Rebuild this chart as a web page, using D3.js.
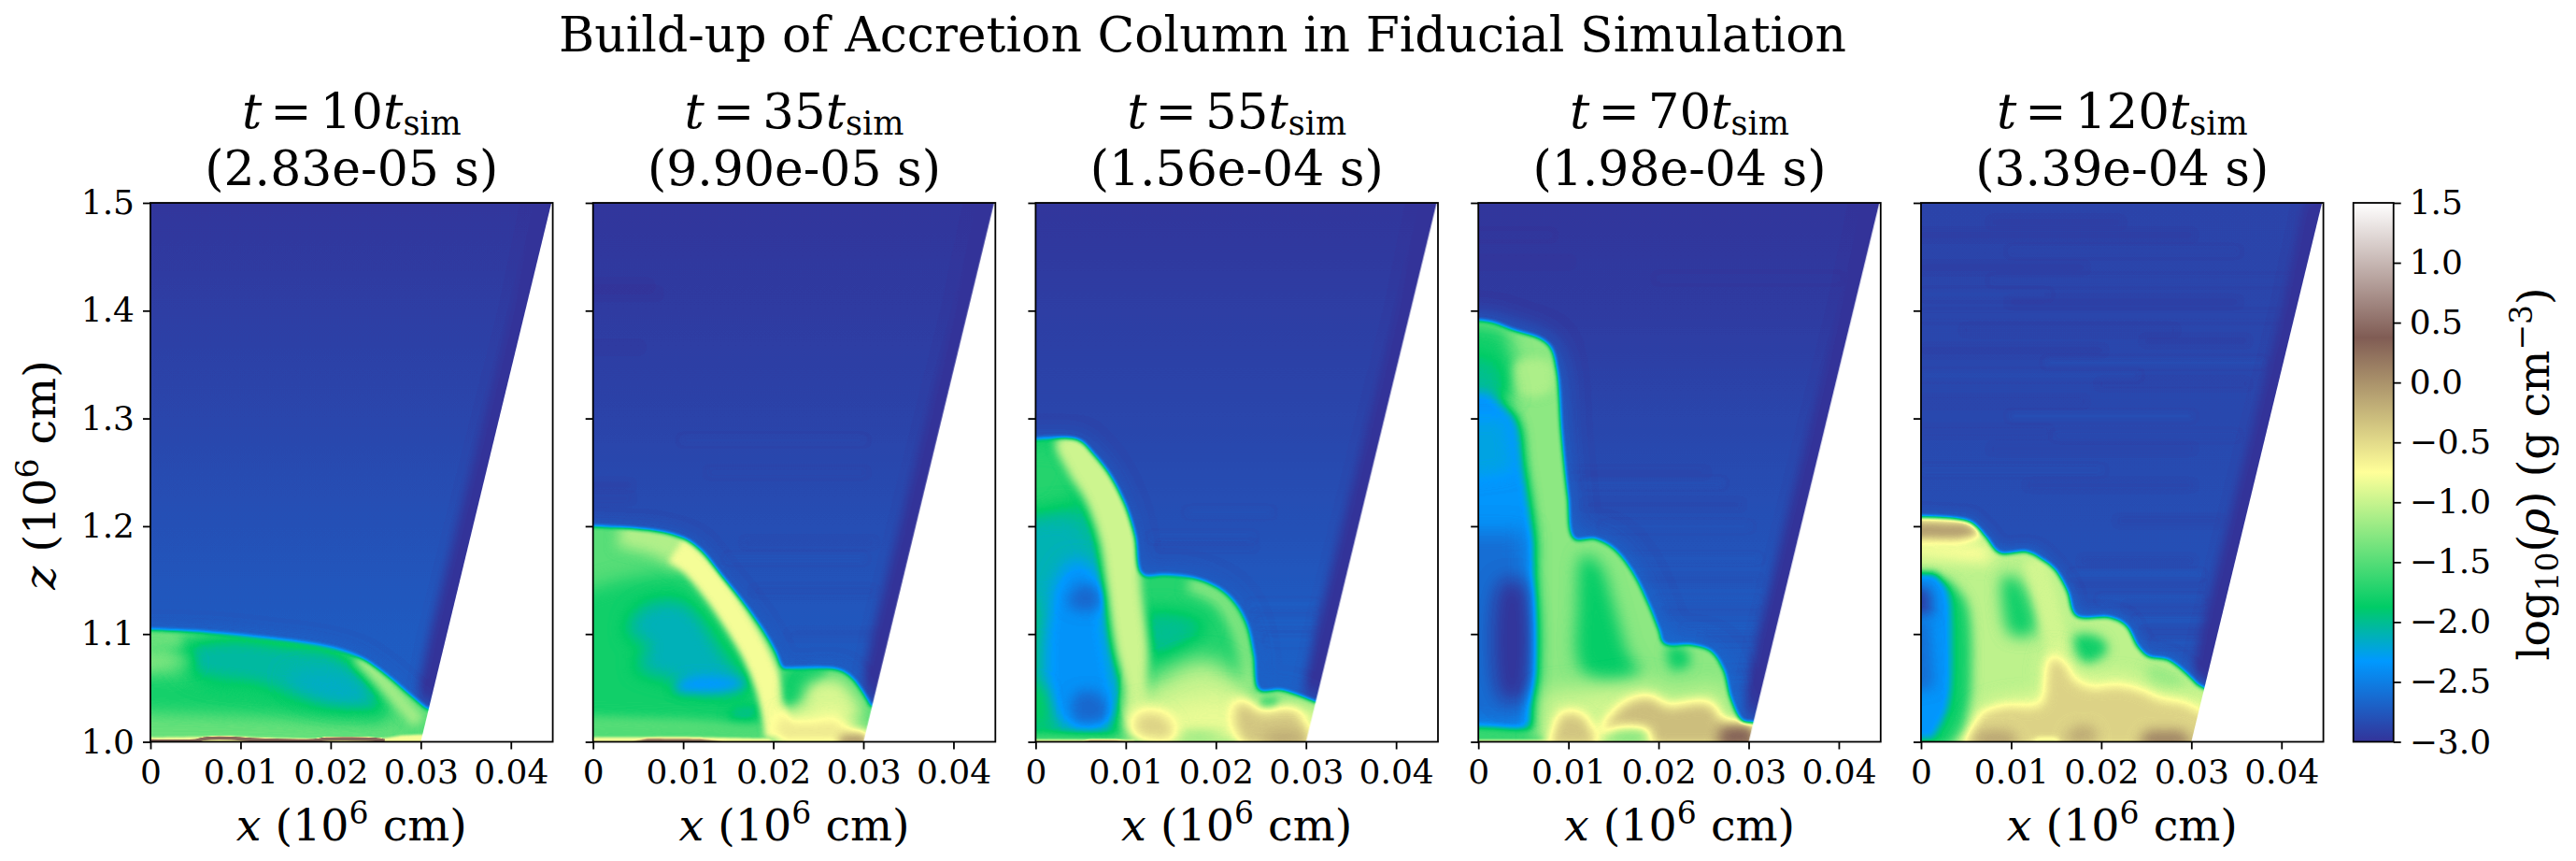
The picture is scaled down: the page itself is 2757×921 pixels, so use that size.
<!DOCTYPE html>
<html><head><meta charset="utf-8">
<script src="https://d3js.org/d3.v7.min.js"></script>
<style>html,body{margin:0;padding:0;background:#fff}svg{display:block}text{font-family:"DejaVu Serif";fill:#000}</style>
</head><body><svg id="c" width="2757" height="921"></svg>
<script>
// Units: x in 10^3 cm, z in 10^3 cm above 1.0e6 cm.
const timesSim=["10","35","55","70","120"];
const timesSec=["2.83e-05","9.90e-05","1.56e-04","1.98e-04","3.39e-04"];
const xTicks=[0,10,20,30,40];
const zTicks=[0,100,200,300,400,500];
const cbTicks=[-3,-2.5,-2,-1.5,-1,-0.5,0,0.5,1,1.5];
const terrainPos=[-3,-2.325,-1.875,-0.75,0.375,1.5];
const terrainCol=["#333399","#0099ff","#00cc66","#ffff99","#805c54","#ffffff"];
const wedge=[[30,0],[44.5,500],[-5,500],[-5,0]];
const darkStrip=[[29,20],[31,100],[34,200],[37,300],[40,400],[42.5,500],[50,520],[50,-10],[31,-10]];

const bgZ=[0,40,100,200,300,400,500];
const bg1=[-2.72,-2.72,-2.74,-2.8,-2.87,-2.93,-2.98];
const bg2=[-2.72,-2.72,-2.76,-2.82,-2.89,-2.94,-2.98];
const bg3=[-2.66,-2.68,-2.72,-2.8,-2.87,-2.93,-2.98];
const bg4=[-2.66,-2.68,-2.72,-2.8,-2.88,-2.94,-2.98];
const bg5=[-2.74,-2.76,-2.78,-2.82,-2.86,-2.88,-2.9];

// density regions: [rho, softness, outline]; strokes carry a thickness before the outline.
// first entry = halo outside the front, second = the front itself, the rest lie inside the front.
const panel1Regions=[
[-2.66,.9,[[-5,106],[6.3,104],[13.2,98],[20,90],[23.5,80],[26.3,64],[28.7,47],[30.6,35],[36,20],[36,-10],[-5,-10]]],
[-1.5,.2,[[-5,104],[0,104],[6.3,101.5],[13.2,96],[20,87.5],[23.5,77],[26.3,61],[28.7,44],[30.6,31],[36,20],[36,-10],[-5,-10]]],
[-1.42,.8,[[-5,30],[8,28],[20,22],[28,18],[28,-5],[-5,-5]]],
[-1.78,.9,[[-5,62],[8,58],[14,47],[25,25],[26.5,25],[25,19],[14,24],[-5,30]]],
[-2.05,1,[[4.6,93],[9.7,98],[14.9,93],[20.8,85],[23.5,64],[26.3,26],[21.8,31],[16.6,38],[11.5,50],[4.6,61],[2.8,82]]],
[-2.15,1,[[15,60],[21,64],[24.5,40],[20,36]]],
[-1.15,.5,1.6,[[23.2,79],[25.6,58],[28,35],[29.8,18]]],
[-1.4,.5,[[-5,104],[3,103],[3.5,90],[-5,88]]],
[-1.25,.8,[[-5,82],[4,80],[5,72],[-5,65]]],
[-.78,.1,[[-5,3.5],[5,4.5],[9,5],[12,4],[26,3.5],[28,6],[31,7],[36,-5],[-5,-5]]],
[.3,.08,.4,[[-1,1],[5,1],[6,3],[9,3.4],[11,2.2],[18,1.2],[19.5,2.6],[25,2.2],[26,1]]]
];
const panel2Regions=[
[-2.68,.9,[[-5,202],[6.4,198],[9.9,191],[11.9,181],[14.3,156],[16.8,130],[18.8,107],[20.2,87],[21.1,71],[27.1,70],[28.5,64],[29.9,50],[30.8,37],[36,20],[36,-10],[-5,-10]]],
[-1.48,.2,[[-5,200],[0,200],[6.4,196],[9.9,189],[11.9,178],[14.3,153.5],[16.8,127.5],[18.8,104],[20.2,84],[21.1,68],[21.6,68],[27.1,67],[28.5,61],[29.9,46.5],[30.8,33.5],[36,20],[36,-10],[-5,-10]]],
[-1.8,1,[[-5,130],[3,150],[10,155],[12.5,130],[16,93],[18.5,46],[19,15],[-5,20]]],
[-2.12,1,[[4.3,116],[7,130],[10.5,127],[14.3,84],[17,52],[13.3,46],[9.9,55],[4.7,70],[6.4,90],[4,98]]],
[-2.35,.6,[[9,48],[15,48],[17,54],[14,60],[10,58]]],
[-2,.6,[[15,22],[18,22],[18.5,32],[15.5,30]]],
[-1.5,.5,[[-5,24],[10,20],[19,12],[20,8],[-5,7]]],
[-1.1,.7,3.8,[[3,197],[7.6,187],[10.5,172]]],
[-.8,.35,3,[[9.2,178],[11.2,165],[13.8,139],[16.1,110],[18.1,81],[19.5,52],[20.3,23],[20.6,5]]],
[-1.8,.5,[[21.5,66],[26,66],[25,52],[23,38],[21.4,32]]],
[-.92,.8,[[23.7,52],[27.1,58],[29.1,41],[29.9,23],[20.9,26],[23.3,35]]],
[-.6,.8,[[20.5,26],[24,24],[27,26],[29,15],[30.5,8],[36,-5],[20,-5]]],
[-.05,.5,[[27.5,6],[30,8],[31,-5],[27,-5]]],
[-.8,.12,[[-5,4],[10,4.5],[19.5,3],[21,-5],[-5,-5]]],
[.3,.1,[[4,-1],[6,3],[12,2.6],[15,-1]]]
];
const panel3Regions=[
[-2.68,1.1,[[-5,283],[4.7,282],[6.4,270],[8.1,252],[9.9,223],[11,194],[11.9,158],[14.4,158],[17.5,155],[20.2,146],[22.2,133],[23.7,112],[24.6,83],[25.1,51],[27.2,50],[29.2,46],[31,40],[36,20],[36,-10],[-5,-10]]],
[-1.9,.2,[[-5,281],[0,281],[4.7,280],[6.4,267],[8.1,249],[9.9,220],[11,191],[11.8,155.5],[14.4,155],[17.5,152],[20.2,143],[22,130],[23.4,110],[24.2,81],[24.8,48],[27.2,48],[29.2,43],[30.9,37.5],[36,20],[36,-10],[-5,-10]]],
[-1.72,1.5,[[-5,285],[4,280],[6,255],[3,205],[-5,195]]],
[-2.1,1.2,[[-5,205],[4,215],[6.5,190],[7.5,130],[-5,125]]],
[-2.36,1,[[1.5,130],[4,168],[6.5,160],[8,100],[8.5,20],[3,15],[1,50]]],
[-2.65,.7,[[3.5,130],[5,146],[7,140],[7,124],[4.5,122]]],
[-2.65,.7,[[4,30],[4.5,45],[7,45],[8,22],[4.5,18]]],
[-1.85,.8,[[-5,60],[1,50],[1.5,20],[-5,15]]],
[-1.6,.4,[[-5,9],[10,6],[11,-5],[-5,-5]]],
[-.8,.12,[[-5,2.5],[11,2],[11,-5],[-5,-5]]],
[.1,.1,[[5,-1],[6,1.8],[9,1.8],[11,-1]]],
[-1.72,.15,[[11.5,158],[14.4,158],[17.5,156],[21,146],[24,130],[25,110],[26,81],[26,48],[24,20],[10,20],[10.5,100]]],
[-1.3,.6,2,[[17,148],[20.5,133],[22.6,105],[23.6,72],[24,50]]],
[-2,1,[[12,120],[15,122],[19,110],[16,85],[13,78],[12,90]]],
[-1,1.2,[[12,50],[14,60],[16,70],[19,76],[21.5,65],[23.7,52],[25,30],[24,10],[10,10]]],
[-.97,.5,[[2.2,279],[5,285],[7.5,262],[9,247],[10.6,220],[11.6,190],[11.7,145],[12.5,87],[12.4,50],[13,10],[10.3,10],[9.9,50],[8.8,87],[7.8,145],[7,188],[5.4,225],[3.6,250]]],
[-1.3,.3,[[24.8,50],[27.2,50],[29.2,46],[31,40],[36,20],[24,20]]],
[-.85,1.2,[[11,30],[14,32],[17,40],[21,42],[23,38],[30,33],[36,20],[36,-5],[10.5,-5]]],
[-1.6,.4,[[25,40],[27,40],[26.5,33],[25,33]]],
[-1.3,.6,[[15.5,6],[18,9],[21,6],[18,2]]],
[-.45,.75,[[11,5],[11,25],[14,27],[15.5,12],[15,-1]]],
[-.35,.7,[[22.3,37.6],[23.7,35],[25,27],[27.2,30],[29,29],[30,14],[31,-5],[23,-5],[22,17]]],
[-.1,.8,[[25,-5],[26,8],[29,8],[31,-5]]]
];
const panel4Regions=[
[-2.62,1.4,[[-5,393],[1.6,391],[4,383.5],[6.8,376],[8.2,367],[9,345],[9.5,286],[10.2,228],[10.9,191],[13,191],[15.2,182],[17.5,158],[19.2,129],[20.3,106],[20.9,94],[23.7,92],[26,86],[27.5,68],[28.3,42],[29.6,22],[36,10],[36,-10],[-5,-10]]],
[-1.25,.2,[[-5,391],[0,391],[1.6,389],[4,381.5],[6.8,374],[8,365.6],[8.7,344],[9.2,286],[9.9,228],[10.6,188.5],[13,188],[15,179],[17.2,156],[18.9,127],[20,104],[20.6,91],[23.7,89.6],[25.8,84],[27.2,66.5],[28,40],[29.3,19],[30.3,18],[36,10],[36,-10],[-5,-10]]],
[-1.78,1,[[-5,395],[3,385],[4,350],[3.5,320],[-5,310]]],
[-1.12,.5,[[4.2,352],[8,352],[8,325],[4.5,322]]],
[-2,1.1,[[-5,362],[2,355],[3.6,320],[-5,300]]],
[-2.35,.6,[[-5,322],[1,325],[4.3,300],[5.2,257],[6.2,199],[6.1,113],[6.2,11],[-5,11]]],
[-2.25,.9,[[-5,300],[3.2,300],[4,250],[-5,240]]],
[-2.62,1.2,[[-5,195],[5.3,195],[5.2,12],[-5,22]]],
[-2.98,1,[[2.5,148],[5,148],[5,40],[2.5,40]]],
[-1.65,.4,[[-5,14],[2,12],[7,7],[8,-5],[-5,-5]]],
[-.9,.12,[[-5,2],[8,2],[8,-5],[-5,-5]]],
[-1.85,.9,[[11.6,173],[13.4,165],[15,127],[16.5,84],[17.9,61],[14.4,55],[11.3,69],[11,127]]],
[-.95,1.2,[[7,45],[13,50],[19,55],[21,45],[27,48],[28,20],[30,10],[30,-5],[7,-5]]],
[-1.8,.6,[[21,88],[23,86],[23.5,72],[21.5,67]]],
[-.35,.65,[[8.2,6],[9.2,26],[11.3,26],[12.7,11.5],[13.5,-5],[7.5,-5]]],
[-.3,.65,[[13.4,6],[15.8,14],[18.6,11.5],[19.6,-5],[31,-5],[30,16],[27.2,20],[25.8,35],[23.7,36],[21,33],[19,42],[16.1,35]]],
[-1.35,.6,[[14,4],[16,9],[19,8],[18,1],[15,1]]],
[.35,.7,[[27,14],[30.5,15],[31,-5],[26.5,-5]]]
];
const panel5Regions=[
[-2.6,.7,[[-5,211],[5.4,207],[7.1,193],[8.7,178],[12.3,178],[14.6,162],[16.5,141],[17.5,119],[21,118],[22.9,111],[24.4,90],[25.3,82],[27.3,79],[29.5,67],[31,56],[36,30],[36,-10],[-5,-10]]],
[-1.05,.2,[[-5,208.6],[0,208.6],[5.4,204],[7.1,190.6],[8.7,175],[11.7,176],[13.4,169],[14.8,160],[16.2,140],[17.2,116.6],[21,115],[22.7,108],[24.1,87.5],[25.2,79],[27.3,76],[29.3,64],[30.7,52.5],[36,30],[36,-10],[-5,-10]]],
[-1.8,.6,[[-5,158],[3,150],[5,130],[5.6,60],[5,10],[3,-5],[-5,-5]]],
[-2.35,.45,[[-5,157],[1.6,157],[3,140],[3.4,90],[3,32],[1.3,3],[-5,3]]],
[-2.9,.7,[[-5,145],[1,143],[1.4,118],[-5,112]]],
[-2.6,.7,[[-5,115],[1,112],[1.5,50],[-5,40]]],
[-.75,.8,[[-5,186],[7,184],[8,168],[4,168],[-5,176]]],
[-.1,.5,[[-5,207],[5,204],[6.5,193],[4,187],[-5,188]]],
[-1.8,.8,[[9.2,154.5],[11,149],[12.7,102],[10,99],[9,128]]],
[-.95,.5,2.5,[[12.5,170],[14,130],[15,95],[15.5,80]]],
[-1.8,.6,[[17.2,99],[20,96],[20.7,84.5],[18.3,73],[17.2,81.6]]],
[-1.2,.6,[[25.2,70],[28,65],[29.3,52],[25.5,50]]],
[-.8,1,[[4,-5],[6.5,30],[9,38],[13.5,45],[13.6,70],[14.4,85],[16,80],[17,66],[19,57],[21.7,60],[24.5,54],[26.6,46],[29,42],[36,25],[36,-5]]],
[-.45,.6,[[4.7,-5],[6.8,26],[9.2,32],[13.4,34],[14,62],[14.4,78],[15.8,73],[16.8,58],[18.9,49],[21.7,51],[24.5,46],[26.6,38],[29,35],[31,26],[36,-5]]],
[-.1,.7,[[5.5,-5],[6.5,10],[10,10],[11,-5]]],
[-.15,.7,[[16,1],[17,13],[19,13],[19.5,1]]],
[.15,.7,[[24,-5],[25,10],[29,10],[30.5,-5]]],
[-.9,.3,[[12,-1],[13,4],[15,4],[15.5,-1]]]
];
// faint horizontal streaks: [x start, x end, z, rho]
const panel1Streaks=[];
const panel2Streaks=[[0,6,423,-3],[0,7,416,-2.96],[0,5,366,-2.98],[0,4,238,-2.98],[0,4,226,-2.95],[10,30,280,-2.8],[13,30,250,-2.86],[17,31,185,-2.86],[15,30,170,-2.75],[18,31,140,-2.88],[22,33,100,-2.85]];
const panel3Streaks=[[24,31,127,-2.62],[24.5,31,118,-2.72],[25,31,110,-2.62],[25,31,100,-2.75],[26,31,94,-2.62],[13,24,190,-2.74],[14,24,182,-2.84],[17,26,213,-2.75]];
const panel4Streaks=[[10,25,250,-2.92],[12,27,240,-2.75],[12,29,220,-2.9],[14,30,200,-2.75],[16,31,170,-2.72],[18,31,150,-2.85],[20,31,130,-2.75],[21,31,120,-2.85],[23,31,105,-2.75],[25,31,95,-2.85],[27,31,80,-2.75],[28,31,65,-2.88],[28,31,50,-2.8],[0,8,470,-2.9],[0,10,445,-3],[20,40,430,-2.92]];
const panel5Streaks=[[0,30,470,-2.96],[8,22,482,-3],[10,35,455,-2.82],[0,18,440,-2.96],[8,44,428,-2.82],[0,14,415,-2.8],[10,35,408,-2.97],[0,40,395,-2.82],[5,28,382,-2.93],[0,20,363,-2.97],[14,38,352,-2.76],[25,36,372,-2.96],[0,24,340,-2.78],[20,36,332,-2.95],[0,18,316,-2.95],[10,30,302,-2.76],[0,14,288,-2.93],[8,30,272,-2.94],[15,35,284,-2.82],[0,20,252,-2.78],[12,30,238,-2.93],[22,33,205,-2.93],[18,30,168,-2.95],[17,31,155,-2.68],[17,31,145,-2.92],[20,31,132,-2.68],[23,32,125,-2.88],[24,33,112,-2.66],[25,33,102,-2.9],[26,33,92,-2.72]];

const panelRegions=[panel1Regions,panel2Regions,panel3Regions,panel4Regions,panel5Regions];
const panelStreaks=[panel1Streaks,panel2Streaks,panel3Streaks,panel4Streaks,panel5Streaks];
const panelBg=[bg1,bg2,bg3,bg4,bg5];

const svg=d3.select("#c");
const PL=[161,634.7,1108.4,1582.2,2056], PW=430.6, PT=217, PB=793.5;
const color=d3.scaleLinear().domain(terrainPos).range(terrainCol).interpolate(d3.interpolateRgb).clamp(true);
const lut=d3.range(256).map(i=>d3.rgb(color(-3+i/255*4.5)));
const grey=v=>{const g=Math.round((v+3)/4.5*255);return `rgb(${g},${g},${g})`};
const isOff=p=>p[0]<0||p[1]<0||p[0]>=33;
function sharpen(pts){
  const n=pts.length,out=[];
  pts.forEach((p,i)=>{
    const a=pts[(i-1+n)%n],b=pts[(i+1)%n];
    out.push(p);
    if(isOff(p)||isOff(a)||isOff(b))out.push(p);
  });
  return out;
}
function sub(node,o){
  o.forEach(s=>{const t=node.append("tspan").text(s.t);
    if(s.i)t.attr("font-style","italic"); if(s.s)t.attr("font-size",s.s); if(s.dy)t.attr("dy",s.dy);
    if(s.dx)t.attr("dx",s.dx);});
}
PL.forEach((L,i)=>{
  const x=d3.scaleLinear().domain([0,44.65]).range([L,L+PW]);
  const y=d3.scaleLinear().domain([0,500]).range([PB,PT]);
  const pad=40, W=Math.round(PW)+pad*2, H=Math.round(PB-PT)+pad*2;
  const mk=()=>{const q=document.createElement("canvas");q.width=W;q.height=H;return q;};
  const cv=mk(), c=cv.getContext("2d");
  const sx=v=>x(v)-L+pad, sy=v=>y(v)-PT+pad, k=sx(1)-sx(0);
  const g=c.createLinearGradient(0,sy(0),0,sy(500));
  bgZ.forEach((z,j)=>g.addColorStop(z/500,grey(panelBg[i][j])));
  c.fillStyle=g;c.fillRect(0,0,W,H);
  c.globalAlpha=.55;
  panelStreaks[i].forEach(s=>{
    c.filter=`blur(3px)`;c.strokeStyle=grey(s[3]);c.lineWidth=4;c.lineCap="round";
    c.beginPath();c.moveTo(sx(s[0]),sy(s[2]));c.lineTo(sx(s[1]),sy(s[2]));c.stroke();
  });
  c.globalAlpha=1;
  const liner=(ctx,curve)=>d3.line().x(p=>sx(p[0])).y(p=>sy(p[1])).curve(curve).context(ctx);
  const cClosed=d3.curveCatmullRomClosed.alpha(.5), cOpen=d3.curveCatmullRom.alpha(.5);
  c.filter="blur(6px)";c.fillStyle=grey(-3);
  c.beginPath();liner(c,d3.curveLinear)(darkStrip);c.closePath();c.fill();
  const regs=panelRegions[i], halo=regs[0], front=regs[1];
  c.filter=`blur(${halo[1]*k}px)`;c.fillStyle=grey(halo[0]);c.beginPath();liner(c,cClosed)(sharpen(halo[2]));c.fill();
  const iv=mk(), n=iv.getContext("2d");
  n.fillStyle=grey(front[0]);n.fillRect(0,0,W,H);
  regs.slice(2).forEach(r=>{
    n.filter=`blur(${r[1]*k}px)`;
    if(r.length===3){n.fillStyle=grey(r[0]);n.beginPath();liner(n,cClosed)(sharpen(r[2]));n.fill();}
    else{n.strokeStyle=grey(r[0]);n.lineWidth=r[2]*k;n.lineCap="butt";n.lineJoin="round";n.beginPath();liner(n,cOpen)(r[3]);n.stroke();}
  });
  n.globalCompositeOperation="destination-in";
  n.filter=`blur(${front[1]*k}px)`;n.fillStyle="#000";n.beginPath();liner(n,cClosed)(sharpen(front[2]));n.fill();
  c.filter="none";c.drawImage(iv,0,0);
  const im=c.getImageData(0,0,W,H),d=im.data;
  for(let p=0;p<d.length;p+=4){const q=lut[d[p]];d[p]=q.r;d[p+1]=q.g;d[p+2]=q.b;d[p+3]=255;}
  c.putImageData(im,0,0);
  const out=document.createElement("canvas");out.width=W-2*pad;out.height=H-2*pad;
  const o=out.getContext("2d");
  o.beginPath();d3.line().x(p=>sx(p[0])-pad).y(p=>sy(p[1])-pad).context(o)(wedge);o.closePath();o.clip();
  o.filter="blur(.6px)";o.drawImage(cv,-pad,-pad);
  svg.append("image").attr("x",L).attr("y",PT).attr("width",out.width).attr("height",out.height)
    .attr("preserveAspectRatio","none").attr("href",out.toDataURL());

  const ax=svg.append("g").attr("transform",`translate(0,${PB})`)
    .call(d3.axisBottom(x).tickValues(xTicks).tickSize(8).tickPadding(11).tickFormat(v=>v===0?"0":String(v/1000)));
  const ay=svg.append("g").attr("transform",`translate(${L},0)`)
    .call(d3.axisLeft(y).tickValues(zTicks).tickSize(8).tickPadding(9).tickFormat(v=>i===0?(1+v/1000).toFixed(1):""));
  [ax,ay].forEach(a=>{a.select(".domain").remove();a.selectAll("line").attr("stroke","#000").attr("stroke-width",1.8);
    a.selectAll("text").attr("font-family","DejaVu Serif").attr("font-size",36).attr("fill","#000");});
  svg.append("rect").attr("x",L).attr("y",PT).attr("width",PW).attr("height",PB-PT)
    .attr("fill","none").attr("stroke","#000").attr("stroke-width",1.8);
  const cx=L+PW/2;
  sub(svg.append("text").attr("x",cx).attr("y",137).attr("text-anchor","middle").attr("font-size",53),
    [{t:"t",i:1},{t:"=",dx:9},{t:timesSim[i],dx:9},{t:"t",i:1},{t:"sim",s:35,dy:7}]);
  svg.append("text").attr("x",cx).attr("y",198).attr("text-anchor","middle").attr("font-size",52)
    .text(`(${timesSec[i]} s)`);
  sub(svg.append("text").attr("x",cx).attr("y",899).attr("text-anchor","middle").attr("font-size",47.5),
    [{t:"x",i:1},{t:" (10"},{t:"6",s:33,dy:-18},{t:" cm)",dy:18}]);
});
svg.append("text").attr("x",1287).attr("y",55).attr("text-anchor","middle").attr("font-size",52)
  .text("Build-up of Accretion Column in Fiducial Simulation");
sub(svg.append("text").attr("transform","translate(59,508) rotate(-90)").attr("text-anchor","middle").attr("font-size",47.5),
  [{t:"z",i:1},{t:" (10"},{t:"6",s:33,dy:-18},{t:" cm)",dy:18}]);
const cby=d3.scaleLinear().domain([-3,1.5]).range([PB,PT]);
const cbL=2518.7,cbW=43;
const defs=svg.append("defs").append("linearGradient").attr("id","tb").attr("x1",0).attr("x2",0).attr("y1",1).attr("y2",0);
terrainPos.forEach((v,i)=>defs.append("stop").attr("offset",(v+3)/4.5).attr("stop-color",terrainCol[i]));
svg.append("rect").attr("x",cbL).attr("y",PT).attr("width",cbW).attr("height",PB-PT).attr("fill","url(#tb)").attr("stroke","#000").attr("stroke-width",1.8);
const cba=svg.append("g").attr("transform",`translate(${cbL+cbW},0)`)
  .call(d3.axisRight(cby).tickValues(cbTicks).tickSize(8).tickPadding(9).tickFormat(v=>(v<0?"\u2212":"")+Math.abs(v).toFixed(1)));
cba.select(".domain").remove();cba.selectAll("line").attr("stroke","#000").attr("stroke-width",1.8);
cba.selectAll("text").attr("font-family","DejaVu Serif").attr("font-size",36).attr("fill","#000");
sub(svg.append("text").attr("transform","translate(2728,507) rotate(-90)").attr("text-anchor","middle").attr("font-size",47.5),
  [{t:"log"},{t:"10",s:33,dy:10},{t:"(",dy:-10},{t:"\u03c1",i:1},{t:") (g cm"},{t:"\u22123",s:33,dy:-18}, {t:")",dy:18}]);
</script></body></html>
